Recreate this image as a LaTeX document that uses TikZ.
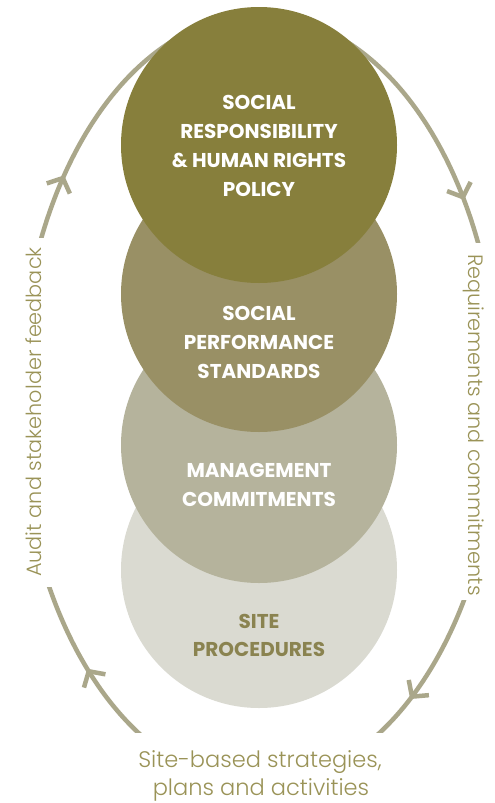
\documentclass[tikz,border=0pt]{standalone}
\usepackage{fontspec}
\setmainfont{Poppins}
\newfontfamily\lightfont{Poppins Light}
\newfontfamily\headfont{Poppins Bold}
\definecolor{cA}{HTML}{877F3C}
\definecolor{cB}{HTML}{999065}
\definecolor{cC}{HTML}{B5B39C}
\definecolor{cD}{HTML}{DADAD1}
\definecolor{cyccol}{HTML}{AAA78A}
\definecolor{labcol}{HTML}{9A9357}
\definecolor{sitecol}{HTML}{8A8350}
\tikzset{
  disc/.style={circle, inner sep=0pt, minimum size=276pt, draw=none},
  head/.style={anchor=base, text=white, font=\headfont\fontsize{20}{24}\selectfont},
  sitehead/.style={anchor=base, text=sitecol, font=\headfont\fontsize{20}{24}\selectfont},
  lab/.style={anchor=base, text=labcol, font=\lightfont\fontsize{22.5}{26}\selectfont},
  sidelab/.style={anchor=base, text=labcol, font=\lightfont\fontsize{20.8}{24}\selectfont},
  cyc/.style={draw=cyccol, line width=4.5pt, line cap=butt, line join=round},
}
\newcommand\cyclearrow[1]{%
  \pgfmathsetmacro\ax{259+240*cos(#1)}%
  \pgfmathsetmacro\ay{400-385*sin(#1)}%
  \pgfmathsetmacro\aa{atan2(385*cos(#1),240*sin(#1))+180}%
  \draw[cyc] (\ax,\ay) ++(\aa-48:17) -- (\ax,\ay) -- ++(\aa+48:17);}
\begin{document}
\begin{tikzpicture}[x=1pt,y=-1pt]
\useasboundingbox (0,0) rectangle (495,803);
\fill[white] (0,0) rectangle (495,803);
% cycle arcs
\begin{scope}
\clip (0,0) rectangle (259,237);
\draw[cyc] plot[domain=160:104, samples=60] ({259+240*cos(\x)},{400-385*sin(\x)});
\end{scope}
\begin{scope}
\clip (259,0) rectangle (495,242);
\draw[cyc] plot[domain=76:20, samples=60] ({259+240*cos(\x)},{400-385*sin(\x)});
\end{scope}
\begin{scope}
\clip (259,600) rectangle (495,732);
\draw[cyc] plot[domain=-26:-66, samples=60] ({259+240*cos(\x)},{400-385*sin(\x)});
\end{scope}
\begin{scope}
\clip (0,587) rectangle (259,732);
\draw[cyc] plot[domain=246:204, samples=60] ({259+240*cos(\x)},{400-385*sin(\x)});
\end{scope}
\cyclearrow{144.8}
\cyclearrow{31.8}
\cyclearrow{-50.4}
\cyclearrow{224.8}
% discs
\node[disc, fill=cD] (site) at (259,570) {};
\node[disc, fill=cC] (mgmt) at (259,445) {};
\node[disc, fill=cB] (sps) at (259,294) {};
\node[disc, fill=cA] (policy) at (259,145) {};
% disc texts
\node[head] (p1) at (259,109) {SOCIAL};
\node[head] (p2) at (259,138) {RESPONSIBILITY};
\node[head] (p3) at (259,167) {\& HUMAN RIGHTS};
\node[head] (p4) at (259,196) {POLICY};
\node[head] (s1) at (259,320) {SOCIAL};
\node[head] (s2) at (259,349) {PERFORMANCE};
\node[head] (s3) at (259,378) {STANDARDS};
\node[head] (m1) at (259,477) {MANAGEMENT};
\node[head] (m2) at (259,506) {COMMITMENTS};
\node[sitehead] (t1) at (259,628) {SITE};
\node[sitehead] (t2) at (259,656) {PROCEDURES};
% labels
\node[sidelab, rotate=90] (audit) at (41.5,412) {Audit and stakeholder feedback};
\node[sidelab, rotate=-90] (req) at (468,425) {Requirements and commitments};
\node[lab] (b1) at (260,767) {Site-based strategies,};
\node[lab] (b2) at (261,795) {plans and activities};
\end{tikzpicture}
\end{document}
